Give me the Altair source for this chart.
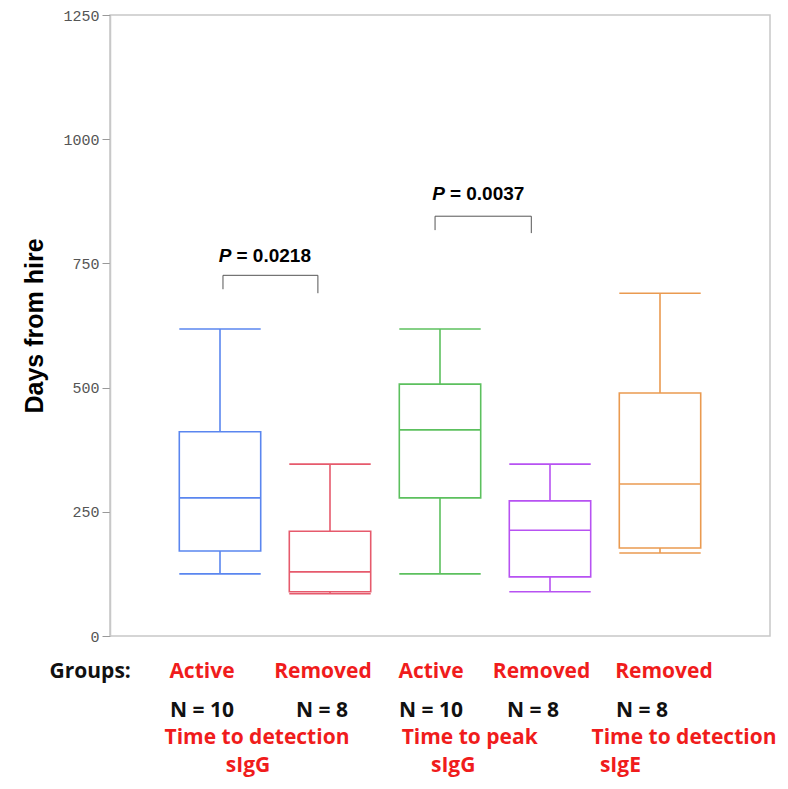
import altair as alt
import pandas as pd

# ---- data ----
box_keys = ["Active TtD sIgG", "Removed TtD sIgG", "Active TtP sIgG", "Removed TtP sIgG", "Removed TtD sIgE"]
box_pos = [1, 2, 3, 4, 5]
whisker_low = [125, 85, 125, 89, 167]
q1_vals = [171, 89, 278, 119, 177]
median_vals = [278, 129, 415, 213, 306]
q3_vals = [411, 211, 507, 272, 489]
whisker_high = [618, 346, 618, 346, 690]
box_colors = ["#5a86ef", "#e65a6c", "#5cc05e", "#b752f2", "#ea9a50"]

y_ticks = [0, 250, 500, 750, 1000, 1250]

group_labels = ["Active", "Removed", "Active", "Removed", "Removed"]
n_labels = ["N = 10", "N = 8", "N = 10", "N = 8", "N = 8"]
measure_labels = ["Time to detection", "Time to peak", "Time to detection"]
antibody_labels = ["sIgG", "sIgG", "sIgE"]
p_values = ["= 0.0218", "= 0.0037"]

HALF = 0.37

df = pd.DataFrame({
    "key": box_keys, "pos": box_pos, "lo": whisker_low, "q1": q1_vals,
    "med": median_vals, "q3": q3_vals, "hi": whisker_high,
})
df["x0"] = df["pos"] - HALF
df["x1"] = df["pos"] + HALF

xs = alt.Scale(domain=[0, 6], nice=False, zero=False)
ys = alt.Scale(domain=[0, 1250], nice=False)
stroke = alt.Stroke("key:N", scale=alt.Scale(domain=box_keys, range=box_colors), legend=None)

yaxis = alt.Axis(values=y_ticks, format="d", title="Days from hire", grid=False,
                 titleFont="Liberation Sans", titleFontSize=25, titleFontWeight="bold",
                 titleColor="black", titlePadding=15)

base = alt.Chart(df)
SW = 1.6
upper_w = base.mark_rule(strokeWidth=SW).encode(
    x=alt.X("pos:Q", scale=xs, axis=None),
    y=alt.Y("q3:Q", scale=ys, axis=yaxis), y2="hi:Q", stroke=stroke)
lower_w = base.mark_rule(strokeWidth=SW).encode(
    x=alt.X("pos:Q", scale=xs, axis=None),
    y=alt.Y("lo:Q", scale=ys), y2="q1:Q", stroke=stroke)
boxes = base.mark_rect(fill="white", strokeWidth=SW).encode(
    x=alt.X("x0:Q", scale=xs), x2="x1:Q",
    y=alt.Y("q1:Q", scale=ys), y2="q3:Q", stroke=stroke)
med = base.mark_rule(strokeWidth=SW).encode(
    x=alt.X("x0:Q", scale=xs), x2="x1:Q", y=alt.Y("med:Q", scale=ys), stroke=stroke)
cap_hi = base.mark_rule(strokeWidth=SW).encode(
    x=alt.X("x0:Q", scale=xs), x2="x1:Q", y=alt.Y("hi:Q", scale=ys), stroke=stroke)
cap_lo = base.mark_rule(strokeWidth=SW).encode(
    x=alt.X("x0:Q", scale=xs), x2="x1:Q", y=alt.Y("lo:Q", scale=ys), stroke=stroke)

# significance brackets
br = pd.DataFrame({
    "xa": [1.027, 2.955], "xb": [1.89, 3.83],
    "top": [726, 845], "la": [698, 817], "lb": [690, 811],
})
bc = alt.Chart(br)
br_top = bc.mark_rule(color="#555555", strokeWidth=1).encode(
    x=alt.X("xa:Q", scale=xs), x2="xb:Q", y=alt.Y("top:Q", scale=ys))
br_l = bc.mark_rule(color="#555555", strokeWidth=1).encode(
    x=alt.X("xa:Q", scale=xs), y=alt.Y("la:Q", scale=ys), y2="top:Q")
br_r = bc.mark_rule(color="#555555", strokeWidth=1).encode(
    x=alt.X("xb:Q", scale=xs), y=alt.Y("lb:Q", scale=ys), y2="top:Q")

pt = pd.DataFrame({"x": [1.15, 3.09], "y": [765, 890], "rest": p_values})
p_it = alt.Chart(pt).mark_text(text="P", align="right", baseline="middle", font="Liberation Sans",
                                fontSize=19, fontWeight="bold", fontStyle="italic", color="black", dx=-5).encode(
    x=alt.X("x:Q", scale=xs), y=alt.Y("y:Q", scale=ys))
p_rest = alt.Chart(pt).mark_text(align="left", baseline="middle", font="Liberation Sans",
                                  fontSize=19, fontWeight="bold", color="black").encode(
    x=alt.X("x:Q", scale=xs), y=alt.Y("y:Q", scale=ys), text="rest:N")

# labels below the plot
lab_rows = []
lab_rows.append({"t": "Groups:", "x": -0.18, "y": -72.5, "c": "black"})
for t, x in zip(group_labels, [0.836, 1.936, 2.918, 3.923, 5.036]):
    lab_rows.append({"t": t, "x": x, "y": -72.5, "c": "red"})
for t, x in zip(n_labels, [0.836, 1.927, 2.918, 3.845, 4.836]):
    lab_rows.append({"t": t, "x": x, "y": -150, "c": "black"})
for t, x in zip(measure_labels, [1.336, 3.27, 5.218]):
    lab_rows.append({"t": t, "x": x, "y": -205, "c": "red"})
for t, x in zip(antibody_labels, [1.255, 3.12, 4.64]):
    lab_rows.append({"t": t, "x": x, "y": -262, "c": "red"})
labs = pd.DataFrame(lab_rows)
labels = alt.Chart(labs).mark_text(font="Open Sans", fontSize=21, fontWeight="bold", baseline="middle").encode(
    x=alt.X("x:Q", scale=xs), y=alt.Y("y:Q", scale=ys), text="t:N",
    color=alt.Color("c:N", scale=alt.Scale(domain=["black", "red"], range=["#111111", "#f01c1c"]), legend=None))

chart = alt.layer(
    upper_w, lower_w, boxes, med, cap_hi, cap_lo, br_top, br_l, br_r, p_it, p_rest, labels
).resolve_scale(color="independent", stroke="independent").properties(
    width=660, height=621,
    autosize=alt.AutoSizeParams(type="none"),
    padding={"left": 102, "top": 7, "right": 10, "bottom": 141},
).configure_view(stroke="#c8c8c8", strokeWidth=1.5).configure_axis(
    labelFont="Liberation Mono", labelFontSize=15, labelColor="#555555",
    tickColor="#999999", tickSize=8, labelPadding=3,
    domainColor="#c8c8c8", domainWidth=1.5,
)

chart.save("out.html", embed_options={"renderer": "svg", "actions": False})
